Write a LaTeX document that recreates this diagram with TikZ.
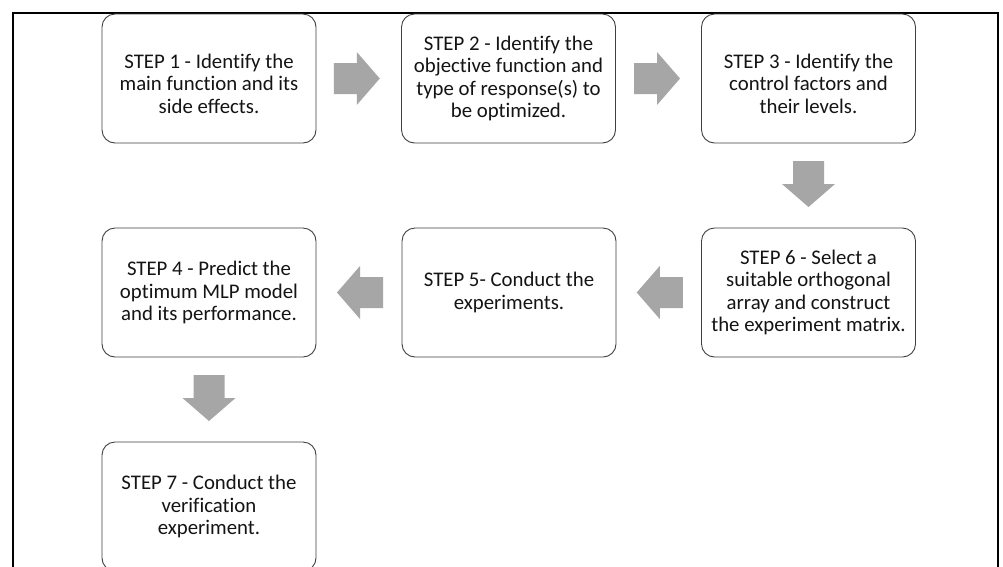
\documentclass[tikz,border=0pt]{standalone}
\usepackage{fontspec}
\setmainfont{Carlito}[Ligatures=CommonOff]
\usetikzlibrary{calc}
\definecolor{boxline}{RGB}{64,64,64}
\definecolor{arrowfill}{RGB}{166,166,166}
\definecolor{steptextcol}{RGB}{20,20,20}
\tikzset{
  stepbox/.style={draw=boxline, line width=0.9pt, rounded corners=13pt, fill=white,
    minimum width=214pt, minimum height=129pt, inner sep=0pt},
  steptext/.style={align=center, inner sep=0pt, text=steptextcol,
    font=\fontsize{20.8}{22.6}\selectfont},
  blockarrow/.style={fill=arrowfill, draw=none}
}
\newcommand\blockarr[2]{%
  \begin{scope}[shift={(#1)}, rotate=#2]
    \path[blockarrow] (-23,-15.5) -- (0,-15.5) -- (0,-26.5) -- (23,0) -- (0,26.5) -- (0,15.5) -- (-23,15.5) -- cycle;
  \end{scope}}
\begin{document}
\begin{tikzpicture}[x=1pt,y=-1pt]
\useasboundingbox (0,0) rectangle (1003,566);
\clip (0,0) rectangle (1003,566);
\fill[white] (0,0) rectangle (1003,566);
% frame
\draw[line width=2pt, black] (13,590) -- (13,13) -- (998,13) -- (998,590);
% boxes
\node[stepbox] (b1) at (209,78.5) {};
\node[stepbox] (b2) at (508.5,78.5) {};
\node[stepbox] (b3) at (808.5,78.5) {};
\node[stepbox] (b4) at (209,292.5) {};
\node[stepbox] (b5) at (509,292.5) {};
\node[stepbox] (b6) at (808.5,292.5) {};
\node[stepbox] (b7) at (209,506.5) {};
% texts
\node[steptext] (t1) at ([yshift=-5pt]b1.center) {STEP 1 - Identify the\\main function and its\\side effects.};
\node[steptext] (t2) at (b2.center) {STEP 2 - Identify the\\objective function and\\type of response(s) to\\be optimized.};
\node[steptext] (t3) at ([yshift=-5pt]b3.center) {STEP 3 - Identify the\\control factors and\\their levels.};
\node[steptext] (t4) at (b4.center) {STEP 4 - Predict the\\optimum MLP model\\and its performance.};
\node[steptext] (t5) at (b5.center) {STEP 5- Conduct the\\experiments.};
\node[steptext] (t6) at (b6.center) {STEP 6 - Select a\\suitable orthogonal\\array and construct\\the experiment matrix.};
\node[steptext] (t7) at (b7.center) {STEP 7 - Conduct the\\verification\\experiment.};
% arrows
\coordinate (a12) at ($(b1.east)!0.5!(b2.west)+(-2,0)$);
\coordinate (a23) at ($(b2.east)!0.5!(b3.west)+(-1.5,0)$);
\coordinate (a36) at ($(b3.south)!0.5!(b6.north)+(0,-1.5)$);
\coordinate (a65) at ($(b6.west)!0.5!(b5.east)+(1,0)$);
\coordinate (a54) at ($(b5.west)!0.5!(b4.east)+(1,0)$);
\coordinate (a47) at ($(b4.south)!0.5!(b7.north)+(0,-1.5)$);
\blockarr{a12}{0}
\blockarr{a23}{0}
\blockarr{a36}{-90}
\blockarr{a65}{180}
\blockarr{a54}{180}
\blockarr{a47}{-90}
\end{tikzpicture}
\end{document}
